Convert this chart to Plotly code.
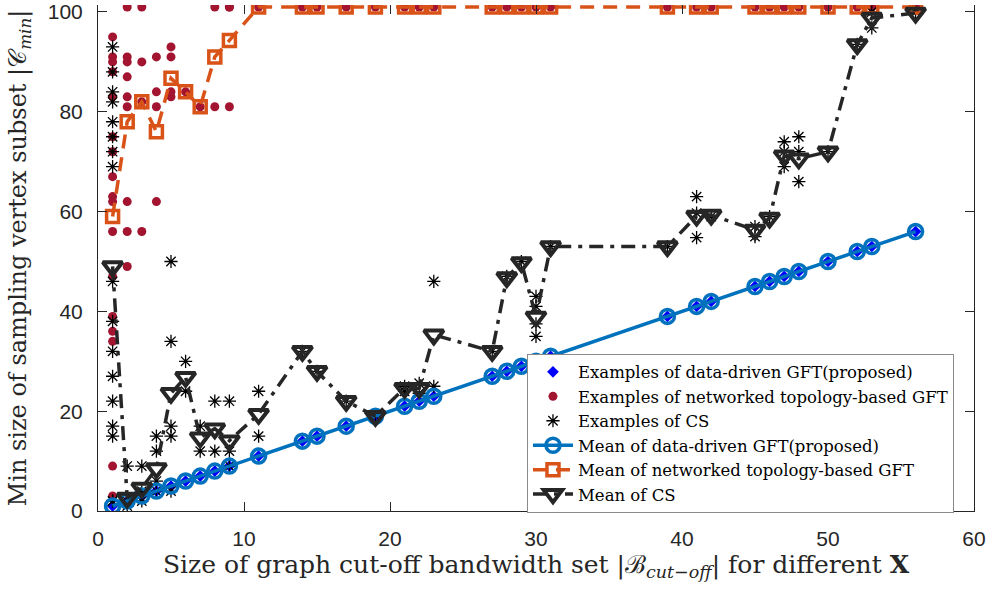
import plotly.graph_objects as go

# Bandwidth sizes |B_cut-off| evaluated
bandwidths = [1, 2, 3, 4, 5, 6, 7, 8, 9, 11, 14, 15, 17, 19, 21, 22, 23,
              27, 28, 29, 30, 31, 39, 41, 42, 45, 46, 47, 48, 50, 52, 53, 56]

# Mean minimum sampling-set size per method
mean_data_driven = [1, 2, 3, 4, 5, 6, 7, 8, 9, 11, 14, 15, 17, 19, 21, 22, 23,
                    27, 28, 29, 30, 31, 39, 41, 42, 45, 46, 47, 48, 50, 52, 53, 56]
mean_topology = [59, 78, 82, 76, 86.7, 84, 81, 91, 94.3, 101, 101, 101, 101, 101, 101, 101, 101,
                 101, 101, 101, 101, 101, 101, 101, 101, 101, 101, 101, 101, 101, 101, 101, 101]
mean_cs = [49, 2.6, 4.6, 8.5, 23.6, 26.8, 14.7, 16.5, 14.1, 19.4, 32, 28, 22, 19, 24.6, 24.6, 35.3,
           32, 46.8, 49.8, 38.9, 53, 53, 59.1, 59.3, 56.3, 58.7, 71.2, 70.6, 72, 93.5, 98.8, 99.8]

# Individual examples: data-driven GFT
ex_dd_x = bandwidths
ex_dd_y = mean_data_driven

# Individual examples: networked topology-based GFT
ex_topo_x = ([1] * 17 + [2] * 9 + [3] * 4 + [4] * 4 + [5] * 4 + [6, 7] + [8, 8] + [9, 9, 9]
             + [11, 14, 15, 17, 19, 21, 22, 23, 27, 28, 29, 30, 31, 39, 41, 42, 45, 46, 47, 48, 50, 52, 53, 56])
ex_topo_y = ([95, 91, 90, 88, 83, 75, 72, 67, 63, 62, 56, 47, 39, 36, 34, 9, 3]
             + [101, 91, 90, 87, 83, 81, 62, 56, 49]
             + [101, 90, 82, 56]
             + [91, 84, 81, 62]
             + [93, 91, 84, 83]
             + [84, 81]
             + [101, 81]
             + [101, 101, 81]
             + [101] * 24)

# Individual examples: CS
ex_cs_x = ([1] * 17 + [2] * 3 + [3] * 3 + [4] * 4 + [5] * 5 + [6] * 2 + [7] * 2 + [8] * 2 + [9] * 3
           + [11, 11, 14, 15, 17, 19, 21, 21, 22, 22, 23, 23, 27, 28, 29, 30, 30, 30, 30, 31, 39,
              41, 41, 41, 42, 45, 45, 46, 47, 47, 47, 48, 48, 48, 50, 52, 53, 53, 56])
ex_cs_y = ([93, 88, 84, 82, 78, 75, 72, 69, 46, 38, 32, 27, 22, 17, 15, 2, 2]
           + [9, 2, 1]
           + [9, 4, 2]
           + [15, 12, 6, 4]
           + [50, 34, 17, 15, 4]
           + [30, 24]
           + [17, 12]
           + [22, 12]
           + [22, 12, 9]
           + [24, 15, 32, 28, 22, 19, 25, 24, 25.6, 23.6, 46, 25, 32, 47, 50, 43, 41, 37.5, 35, 53, 53,
              63, 59.7, 54.8, 59, 57, 55, 59, 74, 72, 69, 75, 72, 66, 72, 93.5, 100, 96.8, 100])

x_ticks = [0, 10, 20, 30, 40, 50, 60]
y_ticks = [0, 20, 40, 60, 80, 100]

BLUE = "#0072BD"
ORANGE = "#D95319"
RED = "#A2142F"
DARK = "#262626"
SERIF = "DejaVu Serif, Liberation Serif, serif"
SANS = "Liberation Sans, Arial, sans-serif"

fig = go.Figure()

fig.add_trace(go.Scatter(
    x=ex_dd_x, y=ex_dd_y, mode="markers", name="Examples of data-driven GFT(proposed)",
    marker=dict(symbol="diamond", size=9, color="#0000FF", line=dict(width=0)),
))
fig.add_trace(go.Scatter(
    x=ex_topo_x, y=ex_topo_y, mode="markers", name="Examples of networked topology-based GFT",
    marker=dict(symbol="circle", size=9, color=RED, line=dict(width=0)),
))
fig.add_trace(go.Scatter(
    x=ex_cs_x, y=ex_cs_y, mode="markers", name="Examples of CS",
    marker=dict(symbol="asterisk-open", size=11, color="black", line=dict(width=1.3, color="black")),
))
fig.add_trace(go.Scatter(
    x=bandwidths, y=mean_data_driven, mode="lines+markers", name="Mean of data-driven GFT(proposed)",
    line=dict(color=BLUE, width=3.5),
    marker=dict(symbol="circle-open", size=14, color=BLUE, line=dict(width=3.5, color=BLUE)),
))
fig.add_trace(go.Scatter(
    x=bandwidths, y=mean_topology, mode="lines+markers", name="Mean of networked topology-based GFT",
    line=dict(color=ORANGE, width=3.5, dash="14px,9px"),
    marker=dict(symbol="square-open", size=12, color=ORANGE, line=dict(width=3.5, color=ORANGE)),
))
fig.add_trace(go.Scatter(
    x=bandwidths, y=mean_cs, mode="lines+markers", name="Mean of CS",
    line=dict(color=DARK, width=3.5, dash="14px,7px,4px,7px"),
    marker=dict(symbol="triangle-down-open", size=17, color=DARK, line=dict(width=4, color=DARK)),
))
# carrier trace for the top tick row
fig.add_trace(go.Scatter(x=[0], y=[0], xaxis="x2", mode="markers", showlegend=False,
                         marker=dict(opacity=0), hoverinfo="skip"))

fig.update_layout(
    width=1000, height=589,
    margin=dict(l=98, r=26, t=0, b=78),
    paper_bgcolor="white", plot_bgcolor="white",
    showlegend=True,
    legend=dict(
        x=0.4897, y=0.311, xanchor="left", yanchor="top",
        bgcolor="white", bordercolor="#8a8a8a", borderwidth=1,
        font=dict(family=SERIF, size=16.5, color="black"),
        tracegroupgap=0, itemwidth=40,
    ),
    xaxis=dict(
        range=[0, 60], tickvals=x_ticks, ticktext=[str(v) for v in x_ticks],
        ticks="inside", ticklen=9, tickcolor=DARK, tickwidth=1,
        showline=True, linecolor=DARK, linewidth=1, mirror=False,
        showgrid=False, zeroline=False,
        tickfont=dict(family=SANS, size=21, color=DARK),
        ticklabelstandoff=9, ticklabeloverflow="allow",
        title=dict(
            text="Size of graph cut-off bandwidth set |ℬ<sub><i>cut−off</i></sub>| for different <b>X</b>",
            font=dict(family=SERIF, size=25, color=DARK), standoff=2,
        ),
    ),
    xaxis2=dict(
        range=[0, 60], overlaying="x", side="top", tickvals=x_ticks,
        ticks="inside", ticklen=9, tickcolor=DARK, tickwidth=1,
        showline=False, showticklabels=False, showgrid=False, zeroline=False,
    ),
    yaxis=dict(
        range=[0, 101.4], tickvals=y_ticks, ticktext=[str(v) for v in y_ticks],
        ticks="inside", ticklen=9, tickcolor=DARK, tickwidth=1,
        showline=True, linecolor=DARK, linewidth=1, mirror="ticks",
        showgrid=False, zeroline=False,
        tickfont=dict(family=SANS, size=21, color=DARK),
        ticklabelstandoff=10, ticklabeloverflow="allow",
        title=dict(
            text="Min size of sampling vertex subset |𝒞<sub><i>min</i></sub>|",
            font=dict(family=SERIF, size=24, color=DARK), standoff=14,
        ),
    ),
)

fig.write_html("out.html")
